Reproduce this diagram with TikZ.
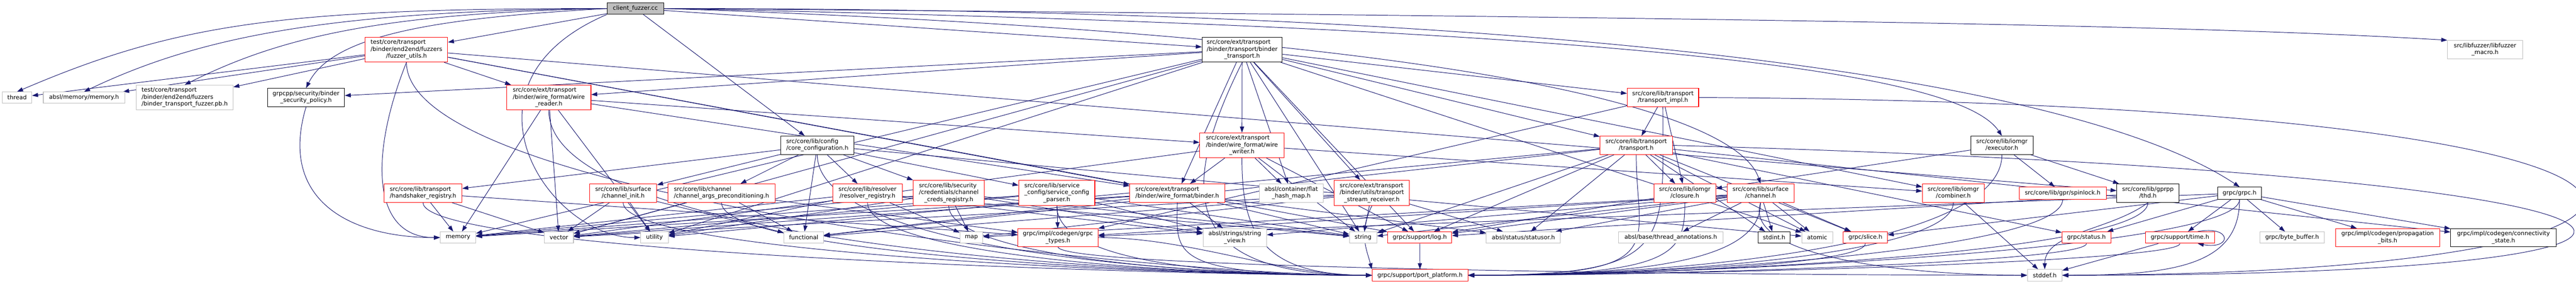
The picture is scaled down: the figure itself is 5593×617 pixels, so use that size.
\documentclass[tikz,border=0pt]{standalone}
\usepackage{fontspec}
\setmainfont{DejaVu Sans}
\usetikzlibrary{arrows.meta}
\definecolor{edgec}{HTML}{191970}
\definecolor{grayb}{HTML}{BFBFBF}
\definecolor{redb}{HTML}{FF0000}
\pgfdeclarelayer{edgelayer}
\pgfsetlayers{edgelayer,main}
\newcommand\mlab[2]{\begin{tabular}{@{}l@{}}#1\\\multicolumn{1}{@{}c@{}}{#2}\end{tabular}}
\newcommand\mk[7]{\node[#6,minimum width={(#3-#2)*1pt},minimum height={(#5-#4)*1pt}] (#1) at ({(#2+#3)/2},{-(#4+#5)/2}) {#7};}
\newcommand\ppl[2]{\draw[edg] (#1.south) .. controls +(0,-#2) and +(-450,0) .. (pp.west);}
\newcommand\ppr[2]{\draw[edg] (#1.south) .. controls +(0,-#2) and +(450,0) .. (pp.east);}
\tikzset{
  box/.style={draw, fill=white, inner sep=0pt, line width=1.2pt, rectangle, text=black,
    font={\fontsize{12.75}{15}\selectfont}},
  rb/.style={box, draw=redb},
  gb/.style={box, draw=grayb},
  kb/.style={box, draw=black},
  cfb/.style={box, draw=black, fill=grayb},
  edg/.style={draw=edgec, line width=1.1pt, -{Triangle[length=13pt,width=9pt]}}
}
\begin{document}
\begin{tikzpicture}[x=1pt,y=1pt]
\useasboundingbox (0,0) rectangle (5593,-617);
% row 0
\mk{cf}{1318}{1441}{6}{31}{cfb}{client\_fuzzer.cc}
% row 1
\mk{fu}{793}{972}{81}{135}{rb}{\mlab{test/core/transport\\/binder/end2end/fuzzers}{/fuzzer\_utils.h}}
\mk{bt}{2610}{2784}{81}{135}{kb}{\mlab{src/core/ext/transport\\/binder/transport/binder}{\_transport.h}}
\mk{libf}{5314}{5477}{88}{128}{gb}{\mlab{src/libfuzzer/libfuzzer}{\_macro.h}}
% row 2
\mk{thread}{5}{69}{200}{224}{gb}{thread}
\mk{amem}{94}{271}{200}{224}{gb}{absl/memory/memory.h}
\mk{pbh}{296}{506}{185}{239}{gb}{\mlab{test/core/transport\\/binder/end2end/fuzzers}{/binder\_transport\_fuzzer.pb.h}}
\mk{secpol}{581}{748}{192}{232}{kb}{\mlab{grpcpp/security/binder}{\_security\_policy.h}}
\mk{wreader}{1100}{1283}{185}{239}{rb}{\mlab{src/core/ext/transport\\/binder/wire\_format/wire}{\_reader.h}}
\mk{timpl}{3533}{3688}{192}{232}{rb}{\mlab{src/core/lib/transport}{/transport\_impl.h}}
% row 3
\mk{cfg}{1695}{1854}{296}{336}{kb}{\mlab{src/core/lib/config}{/core\_configuration.h}}
\mk{wwriter}{2605}{2788}{289}{343}{rb}{\mlab{src/core/ext/transport\\/binder/wire\_format/wire}{\_writer.h}}
\mk{transport}{3474}{3631}{296}{336}{rb}{\mlab{src/core/lib/transport}{/transport.h}}
\mk{exec}{4279}{4414}{296}{336}{kb}{\mlab{src/core/lib/iomgr}{/executor.h}}
% row 4
\mk{hs}{834}{1003}{400}{440}{rb}{\mlab{src/core/lib/transport}{/handshaker\_registry.h}}
\mk{chinit}{1280}{1426}{400}{440}{rb}{\mlab{src/core/lib/surface}{/channel\_init.h}}
\mk{chargs}{1450}{1683}{400}{440}{rb}{\mlab{src/core/lib/channel}{/channel\_args\_preconditioning.h}}
\mk{resolver}{1808}{1959}{400}{440}{rb}{\mlab{src/core/lib/resolver}{/resolver\_registry.h}}
\mk{credsreg}{1983}{2137}{392}{447}{rb}{\mlab{src/core/lib/security\\/credentials/channel}{\_creds\_registry.h}}
\mk{scparser}{2212}{2377}{392}{447}{rb}{\mlab{src/core/lib/service\\\_config/service\_config}{\_parser.h}}
\mk{wbinder}{2453}{2659}{400}{440}{rb}{\mlab{src/core/ext/transport}{/binder/wire\_format/binder.h}}
\mk{fhm}{2734}{2873}{400}{440}{gb}{\mlab{absl/container/flat}{\_hash\_map.h}}
\mk{tsr}{2897}{3060}{392}{447}{rb}{\mlab{src/core/ext/transport\\/binder/utils/transport}{\_stream\_receiver.h}}
\mk{closure}{3591}{3725}{400}{440}{rb}{\mlab{src/core/lib/iomgr}{/closure.h}}
\mk{chan}{3750}{3895}{400}{440}{rb}{\mlab{src/core/lib/surface}{/channel.h}}
\mk{comb}{4174}{4308}{400}{440}{rb}{\mlab{src/core/lib/iomgr}{/combiner.h}}
\mk{spin}{4384}{4573}{407}{433}{rb}{src/core/lib/gpr/spinlock.h}
\mk{thd}{4596}{4731}{400}{440}{kb}{\mlab{src/core/lib/gprpp}{/thd.h}}
\mk{grpch}{4815}{4910}{407}{433}{kb}{grpc/grpc.h}
% row 5
\mk{memory}{956}{1033}{504}{529}{gb}{memory}
\mk{vector}{1182}{1245}{504}{529}{gb}{vector}
\mk{util}{1391}{1451}{504}{529}{gb}{utility}
\mk{functional}{1702}{1788}{504}{529}{gb}{functional}
\mk{map}{2084}{2134}{504}{529}{gb}{map}
\mk{gtypes}{2210}{2384}{497}{536}{rb}{\mlab{grpc/impl/codegen/grpc}{\_types.h}}
\mk{sview}{2612}{2750}{497}{536}{gb}{\mlab{absl/strings/string}{\_view.h}}
\mk{string}{2930}{2989}{504}{529}{gb}{string}
\mk{log}{3013}{3152}{504}{529}{rb}{grpc/support/log.h}
\mk{statusor}{3227}{3388}{504}{529}{gb}{absl/status/statusor.h}
\mk{tann}{3514}{3741}{504}{529}{gb}{absl/base/thread\_annotations.h}
\mk{stdint}{3817}{3887}{504}{529}{kb}{stdint.h}
\mk{atomic}{3912}{3979}{504}{529}{gb}{atomic}
\mk{slice}{4002}{4098}{504}{529}{rb}{grpc/slice.h}
\mk{status}{4477}{4583}{504}{529}{rb}{grpc/status.h}
\mk{time}{4658}{4808}{504}{529}{rb}{grpc/support/time.h}
\mk{bbuf}{4907}{5046}{504}{529}{gb}{grpc/byte\_buffer.h}
\mk{prop}{5071}{5297}{497}{536}{rb}{\mlab{grpc/impl/codegen/propagation}{\_bits.h}}
\mk{conn}{5321}{5550}{497}{536}{kb}{\mlab{grpc/impl/codegen/connectivity}{\_state.h}}
% row 6
\mk{pp}{2979}{3187}{586}{611}{rb}{grpc/support/port\_platform.h}
\mk{stddef}{4402}{4477}{586}{611}{gb}{stddef.h}

\begin{pgfonlayer}{edgelayer}
% client_fuzzer.cc
\draw[edg] (cf.west) .. controls +(-700,0) and +(350,150) .. (thread.north);
\draw[edg] (cf.west) .. controls +(-600,-5) and +(250,120) .. (amem.north);
\draw[edg] (cf.west) .. controls +(-500,-10) and +(200,100) .. (pbh.north);
\draw[edg] (cf.west) .. controls +(-350,-20) and +(60,120) .. (secpol.north);
\draw[edg] (cf) -- (fu);
\draw[edg] (cf.south west) .. controls +(-350,-150) and +(-200,0) .. (util.west);
\draw[edg] (cf) -- (cfg);
\draw[edg] (cf) -- (bt);
\draw[edg] (cf.east) .. controls +(2500,-20) and +(-500,30) .. (libf.north west);
\draw[edg] (cf.east) .. controls +(2200,0) and +(-300,200) .. (grpch.north);
\draw[edg] (cf.east) .. controls +(2000,-40) and +(-100,150) .. (exec.north);
\draw[edg] (cf.east) .. controls +(1800,-60) and +(-50,150) .. (chan.north);
% fuzzer_utils.h
\draw[edg] (fu) -- (thread);
\draw[edg] (fu) -- (amem);
\draw[edg] (fu) -- (pbh);
\draw[edg] (fu) -- (wreader);
\draw[edg] (fu.south) .. controls +(-80,-200) and +(-150,0) .. (memory.west);
\ppl{fu}{300}
\draw[edg] (fu) -- (wbinder);
\draw[edg] (fu) -- (thd);
\draw[edg] (fu) -- (log);
% binder_security_policy.h
\draw[edg] (secpol.south) .. controls +(-60,-200) and +(-200,0) .. (memory.west);
% wire_reader.h
\draw[edg] (wreader) -- (wbinder);
\draw[edg] (wreader) -- (wwriter);
\draw[edg] (wreader) -- (memory);
\draw[edg] (wreader) -- (util);
\draw[edg] (wreader) -- (vector);
\ppl{wreader}{300}
% binder_transport.h
\draw[edg] (bt) -- (secpol);
\draw[edg] (bt) -- (wreader);
\draw[edg] (bt) -- (wwriter);
\draw[edg] (bt) -- (wbinder);
\draw[edg] (bt) -- (fhm);
\draw[edg] (bt) -- (tsr);
\draw[edg] (bt) -- (comb);
\draw[edg] (bt) -- (transport);
\draw[edg] (bt) -- (timpl);
\draw[edg] (bt.south) .. controls +(-150,-300) and +(-400,0) .. (pp.west);
\draw[edg] (bt) -- (atomic);
\draw[edg] (bt) -- (memory);
\draw[edg] (bt) -- (string);
\draw[edg] (bt) -- (util);
\draw[edg] (bt) -- (vector);
\draw[edg] (bt) -- (log);
% wire_writer.h
\draw[edg] (wwriter) -- (wbinder);
\draw[edg] (wwriter) -- (fhm);
\draw[edg] (wwriter.south) .. controls +(0,-150) and +(-250,0) .. (pp.west);
\draw[edg] (wwriter) -- (string);
\draw[edg] (wwriter) -- (vector);
\draw[edg] (wwriter) -- (log);
\draw[edg] (wwriter) -- (comb);
% core_configuration.h
\draw[edg] (cfg) -- (hs);
\draw[edg] (cfg) -- (chinit);
\draw[edg] (cfg) -- (chargs);
\draw[edg] (cfg) -- (functional);
\draw[edg] (cfg) -- (resolver);
\draw[edg] (cfg) -- (credsreg);
\draw[edg] (cfg) -- (scparser);
\draw[edg] (cfg) -- (atomic);
\ppl{cfg}{200}
% handshaker_registry.h
\draw[edg] (hs) -- (memory);
\draw[edg] (hs) -- (vector);
\draw[edg] (hs) -- (gtypes);
\ppl{hs}{110}
% channel_init.h
\draw[edg] (chinit) -- (vector);
\draw[edg] (chinit) -- (functional);
\draw[edg] (chinit) -- (util);
\ppl{chinit}{110}
% channel_args_preconditioning.h
\draw[edg] (chargs) -- (functional);
\draw[edg] (chargs) -- (vector);
\draw[edg] (chargs) -- (gtypes);
\ppl{chargs}{110}
% resolver_registry.h
\draw[edg] (resolver) -- (memory);
\draw[edg] (resolver) -- (util);
\draw[edg] (resolver) -- (map);
\draw[edg] (resolver) -- (string);
\draw[edg] (resolver) -- (sview);
\ppl{resolver}{110}
% channel_creds_registry.h
\draw[edg] (credsreg) -- (map);
\draw[edg] (credsreg) -- (memory);
\draw[edg] (credsreg) -- (string);
\draw[edg] (credsreg) -- (util);
\draw[edg] (credsreg) -- (sview);
\ppl{credsreg}{100}
% service_config_parser.h
\draw[edg] (scparser) -- (gtypes);
\draw[edg] (scparser) -- (memory);
\draw[edg] (scparser) -- (vector);
\draw[edg] (scparser) -- (sview);
\draw[edg] (scparser) -- (string);
\ppl{scparser}{100}
% binder.h
\draw[edg] (wbinder) -- (sview);
\ppl{wbinder}{110}
\draw[edg] (wbinder) -- (memory);
\draw[edg] (wbinder) -- (functional);
\draw[edg] (wbinder) -- (string);
\draw[edg] (wbinder) -- (vector);
\draw[edg] (wbinder) -- (statusor);
% transport_stream_receiver.h
\draw[edg] (tsr) -- (functional);
\draw[edg] (tsr) -- (string);
\draw[edg] (tsr) -- (statusor);
\draw[edg] (tsr) -- (map);
\draw[edg] (tsr) -- (vector);
\draw[edg] (tsr.south) .. controls +(-30,-60) and +(-10,40) .. (pp.north west);
% transport_impl.h
\draw[edg] (timpl) -- (transport);
\draw[edg] (timpl) -- (closure);
\draw[edg] (timpl) -- (gtypes);
\ppr{timpl}{300}
\draw[edg] (timpl.east) .. controls (6095,-225) and (6095,-595) .. (stddef.east);
% transport.h
\draw[edg] (transport) -- (closure);
\draw[edg] (transport) -- (stdint);
\draw[edg] (transport) -- (atomic);
\draw[edg] (transport) -- (slice);
\draw[edg] (transport) -- (status);
\draw[edg] (transport) -- (conn);
\draw[edg] (transport) -- (functional);
\draw[edg] (transport) -- (string);
\draw[edg] (transport) -- (util);
\draw[edg] (transport) -- (log);
\draw[edg] (transport) -- (statusor);
\ppr{transport}{200}
\draw[edg] (transport.east) .. controls (6075,-385) and (6075,-600) .. (stddef.east);
% closure.h
\draw[edg] (closure) -- (log);
\ppr{closure}{110}
% channel.h
\draw[edg] (chan) -- (tann);
\draw[edg] (chan) -- (stdint);
\draw[edg] (chan) -- (atomic);
\draw[edg] (chan) -- (slice);
\draw[edg] (chan) -- (statusor);
\draw[edg] (chan) -- (log);
\draw[edg] (chan) -- (string);
\draw[edg] (chan) -- (map);
\draw[edg] (chan) -- (gtypes);
\draw[edg] (chan) -- (sview);
\ppr{chan}{110}
\draw[edg] (chan.south) .. controls +(-40,-120) and +(-250,0) .. (stddef.west);
% combiner.h
\draw[edg] (comb) -- (stddef);
\ppr{comb}{110}
% executor.h
\draw[edg] (exec) -- (closure);
\draw[edg] (exec) -- (spin);
\draw[edg] (exec) -- (thd);
\ppr{exec}{200}
% spinlock.h
\ppr{spin}{110}
% thd.h
\draw[edg] (thd) -- (log);
\ppr{thd}{110}
\draw[edg] (thd.south) .. controls +(-80,-60) and +(0,80) .. (stddef.north);
% grpc.h
\draw[edg] (grpch) -- (status);
\draw[edg] (grpch) -- (time);
\draw[edg] (grpch) -- (bbuf);
\draw[edg] (grpch) -- (prop);
\draw[edg] (grpch) -- (conn);
\draw[edg] (grpch.south) .. controls +(0,-140) and +(250,0) .. (stddef.east);
\ppr{grpch}{110}
\draw[edg] (grpch) -- (slice);
\draw[edg] (grpch) -- (gtypes);
% time.h
\draw[edg] ([xshift=-37pt]time.north east) .. controls +(75,14) and +(75,-14) .. ([xshift=-37pt]time.south east);
\draw[edg] (time) -- (stddef);
\ppr{time}{40}
% status.h, slice.h, log.h
\ppr{status}{40}
\ppr{slice}{40}
\draw[edg] (log) -- (pp);
% grpc_types.h
\draw[edg] (gtypes.east) .. controls +(200,0) and +(-200,0) .. (pp.west);
\draw[edg] (gtypes.south) .. controls +(0,-50) and +(-500,0) .. (stddef.west);
\end{pgfonlayer}
\end{tikzpicture}
\end{document}
